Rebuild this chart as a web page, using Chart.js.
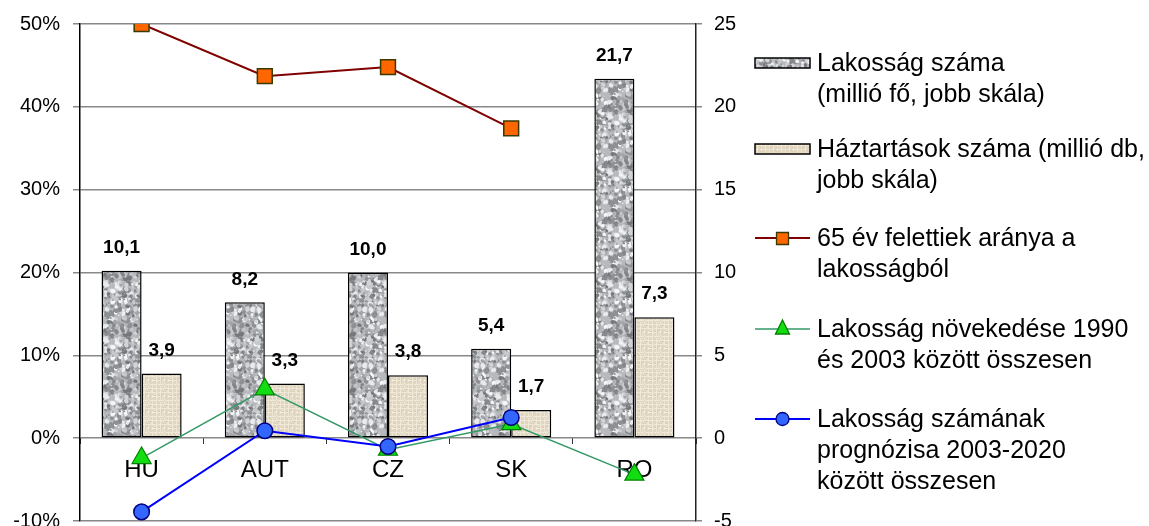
<!DOCTYPE html>
<html>
<head>
<meta charset="utf-8">
<script src="https://cdn.jsdelivr.net/npm/chart.js@4/dist/chart.umd.min.js"></script>
<style>
  html, body { margin: 0; padding: 0; background: #fff; overflow: hidden; }
  #wrap { position: relative; width: 1149px; height: 526px; overflow: hidden; }
  #c { position: absolute; left: 0; top: 0; }
  .lg-text { position: absolute; left: 817px; font-family: Arial, "Liberation Sans", sans-serif;
             font-size: 25px; line-height: 31px; color: #000; white-space: nowrap; }
  .lg-sw { position: absolute; left: 753px; }
</style>
</head>
<body>
<div id="wrap">
  <canvas id="c" width="1149" height="540"></canvas>
</div>
<script>
// ---- data ----
const categories = ['HU', 'AUT', 'CZ', 'SK', 'RO'];
const population = [10.1, 8.2, 10.0, 5.4, 21.7];        // millió fő (right scale)
const households = [3.9, 3.3, 3.8, 1.7, 7.3];           // millió db (right scale)
const over65Share = [50.0, 43.7, 44.8, 37.4, null];     // % (left scale)
const growth1990to2003 = [-2.4, 5.9, -1.4, 1.7, -4.4];  // % (left scale)
const forecast2003to2020 = [-8.9, 0.9, -1.0, 2.5, null];// % (left scale)
const seriesNames = [
  ['Lakosság száma', '(millió fő, jobb skála)'],
  ['Háztartások száma (millió db,', 'jobb skála)'],
  ['65 év felettiek aránya a', 'lakosságból'],
  ['Lakosság növekedése 1990', 'és 2003 között összesen'],
  ['Lakosság számának', 'prognózisa 2003-2020', 'között összesen']
];

const FONT = "Arial, 'Liberation Sans', sans-serif";

// ---- textures (deterministic) ----
function lcg(seed) { let s = seed >>> 0; return () => (s = (s * 1664525 + 1013904223) >>> 0) / 4294967296; }
function granitePattern(ctx) {
  const N = 56;
  const t = document.createElement('canvas'); t.width = N; t.height = N;
  const g = t.getContext('2d');
  g.fillStyle = '#b6b8bc'; g.fillRect(0, 0, N, N);
  const r = lcg(12345);
  const cols = ['#76787c', '#8e9094', '#a2a4a8', '#d2d4d7', '#e8eaec', '#c6c8cb', '#84868a', '#f4f5f6'];
  try { g.filter = 'blur(0.7px)'; } catch (e) {}
  for (let i = 0; i < 380; i++) {
    const x = r() * N, y = r() * N, rad = 0.9 + r() * 2.2;
    g.fillStyle = cols[Math.floor(r() * cols.length)];
    for (const dx of [-N, 0, N]) for (const dy of [-N, 0, N]) {
      g.beginPath(); g.ellipse(x + dx, y + dy, rad, rad * 0.8, r() * 3, 0, Math.PI * 2); g.fill();
    }
  }
  return ctx.createPattern(t, 'repeat');
}
function linenPattern(ctx) {
  const t = document.createElement('canvas'); t.width = 16; t.height = 16;
  const g = t.getContext('2d');
  g.fillStyle = '#e2d6bf'; g.fillRect(0, 0, 16, 16);
  const r = lcg(777);
  for (let i = 0; i < 16; i += 4) {
    g.fillStyle = 'rgba(242,236,224,0.75)'; g.fillRect(i, 0, 1, 16); g.fillRect(0, i, 16, 1);
  }
  for (let i = 0; i < 40; i++) {
    g.fillStyle = r() < 0.5 ? 'rgba(196,184,160,0.6)' : 'rgba(240,234,220,0.7)';
    g.fillRect(Math.floor(r() * 16), Math.floor(r() * 16), 1, 1);
  }
  return ctx.createPattern(t, 'repeat');
}

const canvas = document.getElementById('c');
const ctx = canvas.getContext('2d');
const grayFill = granitePattern(ctx);
const beigeFill = linenPattern(ctx);

const barLabels = {
  id: 'barLabels',
  afterDatasetsDraw(chart) {
    const c = chart.ctx;
    c.save();
    c.font = 'bold 19px ' + FONT;
    c.fillStyle = '#000';
    c.textAlign = 'center';
    c.textBaseline = 'middle';
    [0, 1].forEach(di => {
      const meta = chart.getDatasetMeta(di);
      const data = chart.data.datasets[di].data;
      meta.data.forEach((el, i) => {
        if (data[i] == null) return;
        c.fillText(data[i].toFixed(1).replace('.', ','), el.x, el.y - 23);
      });
    });
    c.restore();
  }
};

const chart = new Chart(ctx, {
  data: {
    labels: categories,
    datasets: [
      { type: 'bar', label: seriesNames[0].join(' '), data: population, yAxisID: 'y2', order: 3,
        backgroundColor: grayFill, borderColor: '#000', borderWidth: 1.5, borderSkipped: false,
        categoryPercentage: 0.65, barPercentage: 1.0 },
      { type: 'bar', label: seriesNames[1].join(' '), data: households, yAxisID: 'y2', order: 4,
        backgroundColor: beigeFill, borderColor: '#000', borderWidth: 1.5, borderSkipped: false,
        categoryPercentage: 0.65, barPercentage: 1.0 },
      { type: 'line', label: seriesNames[2].join(' '), data: over65Share, yAxisID: 'y', order: 2,
        borderColor: '#800000', borderWidth: 2, pointStyle: 'rect', pointRadius: 10.5,
        pointBackgroundColor: '#ff6600', pointBorderColor: '#3a3a00', pointBorderWidth: 1.5, tension: 0 },
      { type: 'line', label: seriesNames[3].join(' '), data: growth1990to2003, yAxisID: 'y', order: 1,
        borderColor: '#339966', borderWidth: 1.5, pointStyle: 'triangle', pointRadius: 11,
        pointBackgroundColor: '#11dd11', pointBorderColor: '#008000', pointBorderWidth: 1.2, tension: 0 },
      { type: 'line', label: seriesNames[4].join(' '), data: forecast2003to2020, yAxisID: 'y', order: 0,
        borderColor: '#0000ff', borderWidth: 2, pointStyle: 'circle', pointRadius: 7.8,
        pointBackgroundColor: '#3366ff', pointBorderColor: '#000080', pointBorderWidth: 1.5, tension: 0 }
    ]
  },
  options: {
    responsive: false,
    animation: false,
    devicePixelRatio: 1,
    layout: { padding: { top: 24, bottom: 7, left: 0, right: 0 } },
    plugins: { legend: { display: false }, tooltip: { enabled: false } },
    events: [],
    scales: {
      x: {
        position: { y: 0 },
        offset: true,
        grid: { display: true, offset: true, drawOnChartArea: false, drawTicks: true, tickLength: 6, color: '#333', lineWidth: 1 },
        border: { display: false },
        ticks: { font: { family: FONT, size: 24 }, color: '#000', padding: 12, maxRotation: 0 }
      },
      y: {
        position: 'left',
        min: -10, max: 50,
        afterFit(s) { s.width = 80; },
        grid: { color: '#888', lineWidth: 1.5, tickLength: 7 },
        border: { display: true, color: '#000', width: 1.5 },
        ticks: { stepSize: 10, callback: v => v + '%', font: { family: FONT, size: 20, lineHeight: 0.6 }, color: '#000', padding: 13 }
      },
      y2: {
        position: 'right',
        min: -5, max: 25,
        afterFit(s) { s.width = 453; },
        grid: { drawOnChartArea: false, color: '#888', lineWidth: 1.5, tickLength: 6 },
        border: { display: true, color: '#222', width: 1.5 },
        ticks: { stepSize: 5, font: { family: FONT, size: 20, lineHeight: 0.6 }, color: '#000', padding: 12 }
      }
    }
  },
  plugins: [barLabels]
});

// ---- HTML legend ----
const legendTops = [47, 133, 222, 313, 403];
const wrap = document.getElementById('wrap');
chart.data.datasets.forEach((ds, i) => {
  const txt = document.createElement('div');
  txt.className = 'lg-text';
  txt.style.top = legendTops[i] + 'px';
  seriesNames[i].forEach((line, k) => {
    if (k) txt.appendChild(document.createElement('br'));
    txt.appendChild(document.createTextNode(line));
  });
  wrap.appendChild(txt);

  const sw = document.createElement('canvas');
  sw.className = 'lg-sw'; sw.width = 60; sw.height = 24;
  sw.style.top = (legendTops[i] + 4) + 'px';
  wrap.appendChild(sw);
  const g = sw.getContext('2d');
  if (ds.type === 'bar') {
    g.fillStyle = i === 0 ? granitePattern(g) : linenPattern(g);
    g.fillRect(2, 7, 55, 10);
    g.strokeStyle = '#000'; g.lineWidth = 1.5; g.strokeRect(2, 7, 55, 10);
  } else {
    g.strokeStyle = ds.borderColor; g.lineWidth = ds.borderWidth;
    g.beginPath(); g.moveTo(2, 12); g.lineTo(57, 12); g.stroke();
    g.fillStyle = ds.pointBackgroundColor; g.strokeStyle = ds.pointBorderColor; g.lineWidth = 1.3;
    g.beginPath();
    if (ds.pointStyle === 'rect') { g.rect(23.5, 6.5, 12, 12); }
    else if (ds.pointStyle === 'triangle') { g.moveTo(29.5, 3); g.lineTo(36.5, 17); g.lineTo(22.5, 17); g.closePath(); }
    else { g.arc(29.5, 12, 6.5, 0, Math.PI * 2); }
    g.fill(); g.stroke();
  }
});
</script>
</body>
</html>
